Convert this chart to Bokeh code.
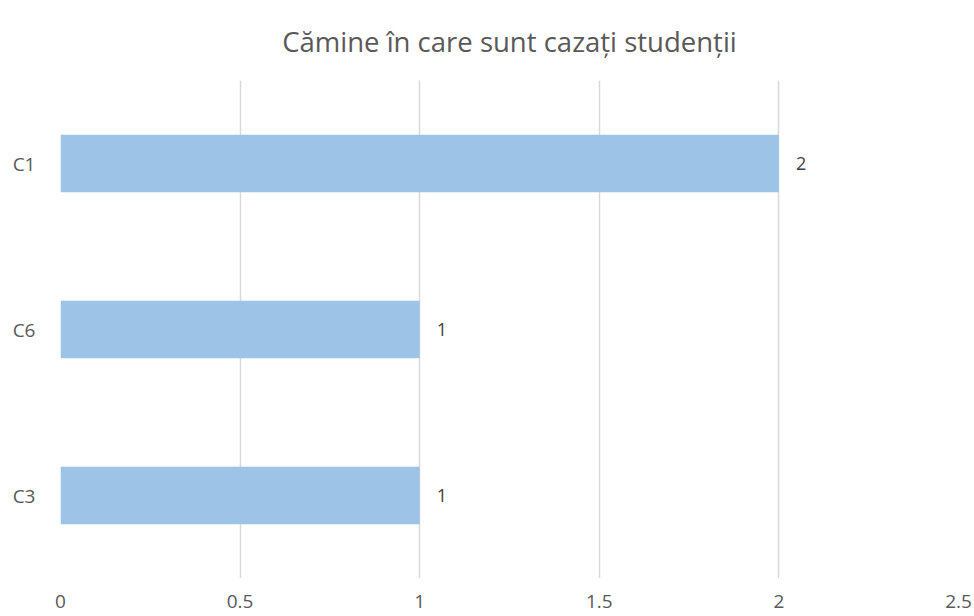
from bokeh.plotting import figure
from bokeh.models import ColumnDataSource, LabelSet, FactorRange, Range1d, FixedTicker
from bokeh.core.properties import value
from bokeh.embed import file_html
from bokeh.resources import INLINE

categories = ["C3", "C6", "C1"]
values = [1, 1, 2]
labels = ["1", "1", "2"]
x_ticks = [0, 0.5, 1, 1.5, 2, 2.5]

FONT = "Open Sans"

src = ColumnDataSource(dict(cat=categories, val=values, lab=labels))

p = figure(y_range=FactorRange(*categories), x_range=Range1d(0, 2.5),
           frame_width=898, frame_height=498, output_backend="svg",
           toolbar_location=None, min_border_left=60, min_border_right=14,
           min_border_top=80, min_border_bottom=36,
           title="Cămine în care sunt cazați studenții")

p.hbar(y="cat", right="val", left=0, height=0.345, source=src,
       fill_color="#9DC3E6", line_color=None)

p.add_layout(LabelSet(x="val", y="cat", text="lab", source=src, x_offset=17,
                      text_baseline="middle", text_align="left",
                      text_font=value(FONT), text_font_size="18px",
                      text_color="#404040"))

p.title.align = "center"
p.title.text_font = FONT
p.title.text_font_size = "27.5px"
p.title.text_font_style = "normal"
p.title.text_color = "#595959"
p.title.standoff = 41

p.xaxis.ticker = FixedTicker(ticks=x_ticks)
p.xaxis.major_label_overrides = {0: "0", 0.5: "0.5", 1: "1", 1.5: "1.5", 2: "2", 2.5: "2.5"}
for ax in (p.xaxis, p.yaxis):
    ax.axis_line_color = None
    ax.major_tick_line_color = None
    ax.minor_tick_line_color = None
    ax.major_label_text_font = FONT
    ax.major_label_text_color = "#595959"
p.xaxis.major_label_text_font_size = "19px"
p.yaxis.major_label_text_font_size = "19px"
p.xaxis.major_label_standoff = 10
p.yaxis.major_label_standoff = 19

p.xgrid.grid_line_color = "#d9d9d9"
p.xgrid.grid_line_width = 1.5
p.ygrid.grid_line_color = None
p.outline_line_color = None

open("out.html", "w").write(file_html(p, INLINE))
